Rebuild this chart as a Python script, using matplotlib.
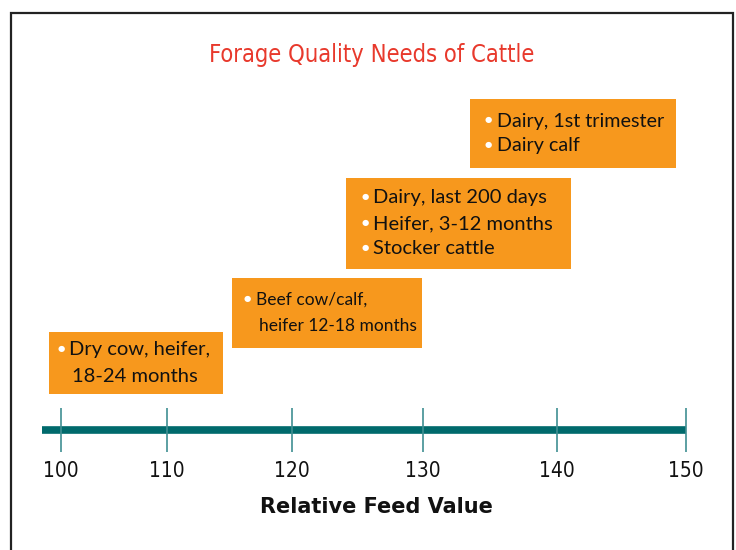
import numpy as np
import matplotlib.pyplot as plt
from matplotlib.patches import Rectangle

# Relative feed value ticks and the tick positions as drawn (the original axis is not evenly spaced)
tick_values = [100, 110, 120, 130, 140, 150]
tick_pixels = [61, 167, 292, 423, 557, 686]

# RFV ranges of each group
box_start = [98.9, 115.2, 124.1, 133.5]
box_end = [114.5, 129.9, 141.1, 149.2]
box_lines = [
    ["Dry cow, heifer,", "18-24 months"],
    ["Beef cow/calf,", "heifer 12-18 months"],
    ["Dairy, last 200 days", "Heifer, 3-12 months", "Stocker cattle"],
    ["Dairy, 1st trimester", "Dairy calf"],
]
bullets = [[True, False], [True, False], [True, True, True], [True, True]]

# layout (figure pixels, y downwards)
box_top = [332, 278, 178, 99]
box_bottom = [394, 348, 269, 168]
box_fontsize = [14.5, 12.5, 14.5, 14.2]
box_linestep = [26, 26, 25.5, 25]
bullet_dx = [12, 15, 19, 18]
text_dx = [20, 24, 27, 27]
indent_dx = [23, 27, 27, 27]

ORANGE = "#F7981D"
TEAL = "#006A6C"
TICK = "#3F8F92"
RED = "#E8392C"


def forward(v):
    v = np.asarray(v, dtype=float)
    out = np.interp(v, tick_values, tick_pixels)
    lo = (tick_pixels[1] - tick_pixels[0]) / (tick_values[1] - tick_values[0])
    hi = (tick_pixels[-1] - tick_pixels[-2]) / (tick_values[-1] - tick_values[-2])
    out = np.where(v < tick_values[0], tick_pixels[0] + (v - tick_values[0]) * lo, out)
    out = np.where(v > tick_values[-1], tick_pixels[-1] + (v - tick_values[-1]) * hi, out)
    return out


def inverse(p):
    p = np.asarray(p, dtype=float)
    out = np.interp(p, tick_pixels, tick_values)
    lo = (tick_values[1] - tick_values[0]) / (tick_pixels[1] - tick_pixels[0])
    hi = (tick_values[-1] - tick_values[-2]) / (tick_pixels[-1] - tick_pixels[-2])
    out = np.where(p < tick_pixels[0], tick_values[0] + (p - tick_pixels[0]) * lo, out)
    out = np.where(p > tick_pixels[-1], tick_values[-1] + (p - tick_pixels[-1]) * hi, out)
    return out


fig = plt.figure(figsize=(7.36, 5.5), dpi=100)
ax = fig.add_axes([0, 0, 1, 1])
ax.set_xscale("function", functions=(forward, inverse))
ax.set_xlim(float(inverse(0)), float(inverse(736)))
ax.set_ylim(550, 0)
ax.axis("off")

# frame around the chart
fig.patches.append(Rectangle((11 / 736, -0.05), 722 / 736, 1.05 - 13 / 550,
                             transform=fig.transFigure, fill=False,
                             edgecolor="#222222", linewidth=1.6))

ax.text(float(inverse(372)), 55, "Forage Quality Needs of Cattle", color=RED,
        fontsize=17, family="DejaVu Sans", fontstretch="condensed",
        ha="center", va="center")

# axis line and ticks
ax.plot([float(inverse(42)), tick_values[-1]], [430, 430], color=TEAL,
        linewidth=5.5, solid_capstyle="butt", zorder=2)
ax.vlines(tick_values, 408, 452, color=TICK, linewidth=1.2, zorder=3)
for v in tick_values:
    ax.text(v, 471, str(v), ha="center", va="center", fontsize=15,
            family="DejaVu Sans", fontstretch="condensed", color="#111111")
ax.text(float(inverse(376)), 507, "Relative Feed Value", ha="center", va="center",
        fontsize=15, fontweight="bold", color="#111111")

# boxes
px = 0.72  # points per pixel
for i in range(len(box_start)):
    ax.fill_between([box_start[i], box_end[i]], box_top[i], box_bottom[i],
                    color=ORANGE, linewidth=0, zorder=1)
    n = len(box_lines[i])
    mid = (box_top[i] + box_bottom[i]) / 2
    for j, line in enumerate(box_lines[i]):
        y = mid + (j - (n - 1) / 2) * box_linestep[i]
        if bullets[i][j]:
            ax.annotate("\u25CF", (box_start[i], y), xytext=(bullet_dx[i] * px, 1),
                        textcoords="offset points", color="white",
                        fontsize=6, ha="center", va="center",
                        family="DejaVu Sans", zorder=4)
            dx = text_dx[i]
        else:
            dx = indent_dx[i]
        ax.annotate(line, (box_start[i], y), xytext=(dx * px, 0),
                    textcoords="offset points", color="#111111",
                    fontsize=box_fontsize[i], ha="left", va="center",
                    family=["Lato", "DejaVu Sans"], zorder=4)

fig.savefig("out.png", dpi=100)
